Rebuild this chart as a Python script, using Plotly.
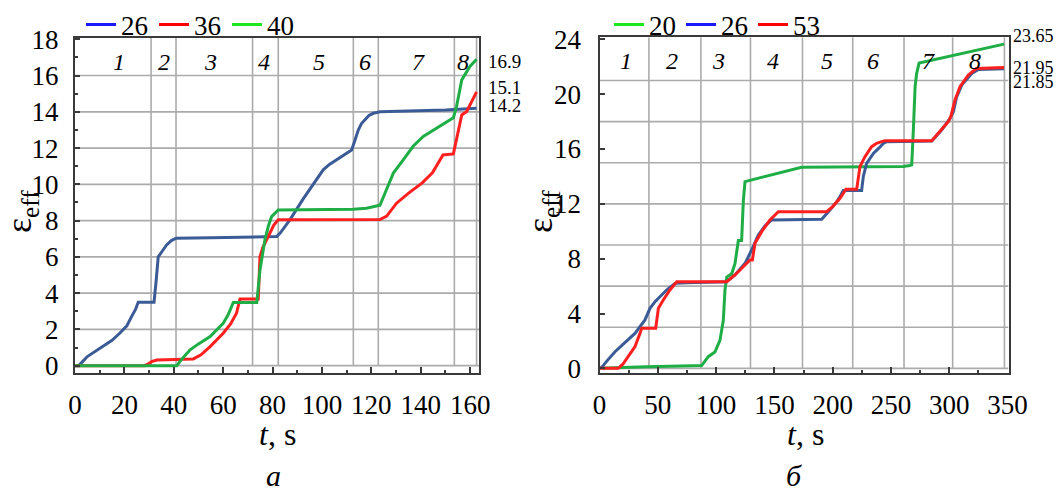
import plotly.graph_objects as go

W, H = 1062, 495
SERIF = "Liberation Serif"

# ---------------- panel a: strain vs time ----------------
A_T26 = [0, 1.5, 5, 10, 15, 18.2, 21, 22.9, 24.5, 25.6, 32, 32.8, 33.7, 35.5, 37.1, 39, 40.9,
         55, 70, 81.7, 83, 87, 92.4, 96, 100.5, 103, 105.9, 109, 112, 113.4, 114.7, 116,
         117.4, 119, 120.8, 123.5, 135, 150, 162.6]
A_V26 = [0, 0, 0.5, 0.95, 1.4, 1.8, 2.2, 2.7, 3.1, 3.5, 3.5, 4.6, 6.0, 6.35, 6.66, 6.9, 7.03,
         7.06, 7.08, 7.12, 7.3, 8.04, 9.2, 9.9, 10.8, 11.1, 11.35, 11.6, 11.9, 12.45, 13.0, 13.35,
         13.56, 13.8, 13.92, 14.0, 14.05, 14.1, 14.2]

A_T36 = [0, 28.3, 29.5, 31, 33.1, 40, 47.9, 51, 54.7, 60, 63, 65.4, 66.8, 74.2, 74.9, 76, 78.9,
         80.5, 82.3, 100, 123.5, 126.2, 130.2, 135.2, 140.6, 144.7, 147.6, 149, 153.2, 155.2,
         156.6, 158.6, 161.3, 162.6]
A_V36 = [0, 0, 0.08, 0.22, 0.31, 0.35, 0.37, 0.6, 1.05, 1.79, 2.3, 2.89, 3.68, 3.68, 6.01, 6.5,
         7.3, 7.75, 8.04, 8.06, 8.06, 8.25, 8.96, 9.53, 10.08, 10.64, 11.35, 11.62, 11.68, 13.0,
         13.83, 14.02, 14.75, 15.1]

A_T40 = [0, 41.2, 43.5, 46.6, 50, 54.7, 60, 62, 64.1, 73.6, 74.9, 76.9, 78.3, 79.6, 82.3, 100,
         112.7, 118, 122.1, 123.5, 125.5, 128.9, 132.9, 136.9, 141, 146.4, 153.2, 154.5, 156.6,
         159.9, 162.6]
A_V40 = [0, 0, 0.4, 0.87, 1.2, 1.6, 2.34, 2.8, 3.48, 3.48, 5.28, 6.94, 7.7, 8.22, 8.59, 8.61,
         8.62, 8.68, 8.78, 8.85, 9.51, 10.62, 11.35, 12.1, 12.64, 13.1, 13.67, 14.3, 15.76,
         16.5, 16.9]

A_BOUNDS = [30.8, 40.9, 71.9, 82.3, 112.7, 122.8, 153.6, 162.6]
A_PHASE_T = [17.8, 36.2, 54.7, 76.6, 98.8, 117.4, 139, 157.2]
A_PHASE_V = 16.77
A_HGRID = [0, 2, 4, 6, 8, 10, 12, 14, 16]
A_XTICKS = [0, 20, 40, 60, 80, 100, 120, 140, 160]
A_YTICKS = [0, 2, 4, 6, 8, 10, 12, 14, 16, 18]

# ---------------- panel б ----------------
B_T20 = [0, 15, 40, 70, 87.6, 93.3, 99, 103.3, 106.2, 107.6, 109.1, 113.4, 116.2, 119.1, 121.9,
         123.4, 124.8, 173.4, 200, 230, 260.6, 266, 267.8, 269.2, 270.7, 272, 274.1, 347]
B_V20 = [0, 0.05, 0.12, 0.17, 0.2, 0.85, 1.19, 2.04, 3.5, 5.69, 6.66, 6.9, 7.63, 9.33, 9.33,
         12.25, 13.62, 14.67, 14.69, 14.7, 14.72, 14.8, 14.84, 17.4, 20.56, 21.5, 22.27, 23.65]

B_T26 = [0, 1.9, 7, 13.3, 22, 30.4, 39, 43.3, 48, 53.3, 58, 64.7, 75, 109.1, 116.2, 124.8, 130.5,
         136.2, 142, 147.7, 170, 190.6, 197.7, 203, 206.3, 209.1, 224.8, 226.3, 229.1, 234.9,
         240, 243.4, 246.3, 285, 293.5, 300.7, 303.5, 306.4, 310.7, 315, 319.3, 325, 347]
B_V26 = [0, 0.07, 0.6, 1.21, 1.9, 2.55, 3.53, 4.38, 4.9, 5.35, 5.75, 6.2, 6.25, 6.32, 6.81, 7.66,
         8.63, 9.73, 10.4, 10.83, 10.86, 10.88, 11.55, 12.1, 12.53, 12.97, 12.97, 14.0, 14.95,
         15.68, 16.1, 16.41, 16.53, 16.59, 17.39, 18.24, 18.72, 19.81, 20.66, 21.1, 21.51, 21.8,
         21.85]

B_T53 = [0, 16.1, 20, 24.7, 30.4, 34.7, 36.2, 48.2, 50.5, 54.7, 60.4, 66.2, 80, 109.1, 116.2,
         124.8, 129.1, 131.1, 133.4, 139.1, 146, 153.4, 175, 194.8, 200, 206.3, 211.4, 220.6,
         223.4, 227.7, 233.4, 237.7, 242, 244.8, 285, 290.6, 299.2, 301.5, 304.9, 309.2, 316.3,
         323.4, 347]
B_V53 = [0, 0, 0.3, 0.85, 1.58, 2.55, 2.92, 2.92, 4.38, 4.99, 5.72, 6.32, 6.32, 6.32, 6.81, 7.54,
         7.9, 7.9, 9.12, 9.97, 10.8, 11.43, 11.43, 11.43, 11.8, 12.41, 13.07, 13.07, 14.72,
         15.44, 16.17, 16.42, 16.54, 16.61, 16.61, 17.15, 18.0, 18.41, 19.58, 20.55, 21.4,
         21.88, 21.95]

B_BOUNDS = [42.4, 87, 129.5, 174.1, 217.2, 261.2, 302.9, 347.3]
B_PHASE_T = [22.6, 62.4, 102.3, 149.1, 194.8, 234.8, 282, 322]
B_PHASE_V = 22.4
B_HGRID = [0, 3, 6, 9, 12, 15, 18, 21]
B_XTICKS = [0, 50, 100, 150, 200, 250, 300, 350]
B_YTICKS = [0, 4, 8, 12, 16, 20, 24]

PHASES = ["1", "2", "3", "4", "5", "6", "7", "8"]

# colours
C_BLUE, C_RED, C_GREEN = "#3b5b96", "#ff1f1f", "#1fae45"
L_BLUE, L_RED, L_GREEN = "#1a1aff", "#ff0000", "#1ee61e"
GRID = "#ababab"
FRAME = "#3a3a3a"


def px_x(p):
    return p / W


def px_y(p):
    return 1 - p / H


fig = go.Figure()

# curves of panel a
for t, v, c in [(A_T26, A_V26, C_BLUE), (A_T36, A_V36, C_RED), (A_T40, A_V40, C_GREEN)]:
    fig.add_trace(go.Scatter(x=t, y=v, mode="lines", line=dict(color=c, width=3),
                             showlegend=False, xaxis="x", yaxis="y", hoverinfo="skip"))
# curves of panel б
for t, v, c in [(B_T20, B_V20, C_GREEN), (B_T26, B_V26, C_BLUE), (B_T53, B_V53, C_RED)]:
    fig.add_trace(go.Scatter(x=t, y=v, mode="lines", line=dict(color=c, width=3),
                             showlegend=False, xaxis="x2", yaxis="y2", hoverinfo="skip"))

# legend entries
for name, c in [("26", L_BLUE), ("36", L_RED), ("40", L_GREEN)]:
    fig.add_trace(go.Scatter(x=[None], y=[None], mode="lines", name=name,
                             line=dict(color=c, width=3), legend="legend",
                             xaxis="x", yaxis="y"))
for name, c in [("20", L_GREEN), ("26", L_BLUE), ("53", L_RED)]:
    fig.add_trace(go.Scatter(x=[None], y=[None], mode="lines", name=name,
                             line=dict(color=c, width=3), legend="legend2",
                             xaxis="x2", yaxis="y2"))

A_XR = [0, 163.7]
A_YR = [-0.39, 18.1]
B_XR = [0, 350.8]
B_YR = [-0.34, 24.15]

shapes = []
for lv in A_HGRID:
    shapes.append(dict(type="line", xref="x", yref="y", x0=A_XR[0], x1=A_XR[1], y0=lv, y1=lv,
                       line=dict(color=GRID, width=1.6), layer="below"))
for b in A_BOUNDS:
    shapes.append(dict(type="line", xref="x", yref="y", x0=b, x1=b, y0=0, y1=A_YR[1],
                       line=dict(color=GRID, width=1.6), layer="below"))
for lv in B_HGRID:
    shapes.append(dict(type="line", xref="x2", yref="y2", x0=B_XR[0], x1=B_XR[1], y0=lv, y1=lv,
                       line=dict(color=GRID, width=1.6), layer="below"))
for b in B_BOUNDS:
    shapes.append(dict(type="line", xref="x2", yref="y2", x0=b, x1=b, y0=0, y1=B_YR[1],
                       line=dict(color=GRID, width=1.6), layer="below"))

ann = []
for t, s in zip(A_PHASE_T, PHASES):
    ann.append(dict(x=t, y=A_PHASE_V, xref="x", yref="y", text=f"<i>{s}</i>", showarrow=False,
                    xanchor="center", yanchor="middle",
                    font=dict(family=SERIF, size=24, color="black")))
for t, s in zip(B_PHASE_T, PHASES):
    ann.append(dict(x=t, y=B_PHASE_V, xref="x2", yref="y2", text=f"<i>{s}</i>", showarrow=False,
                    xanchor="center", yanchor="middle",
                    font=dict(family=SERIF, size=24, color="black")))

# end values
for t, v, dy in [(A_T40, A_V40, -2), (A_T36, A_V36, 4), (A_T26, A_V26, 3)]:
    ann.append(dict(x=t[-1], y=v[-1], xref="x", yref="y", text=f"{v[-1]:g}", showarrow=False,
                    xanchor="left", yanchor="middle", xshift=9, yshift=dy,
                    font=dict(family=SERIF, size=19, color="black")))
for t, v, dy in [(B_T20, B_V20, 8), (B_T53, B_V53, -1), (B_T26, B_V26, -13)]:
    ann.append(dict(x=t[-1], y=v[-1], xref="x2", yref="y2", text=f"{v[-1]:.2f}", showarrow=False,
                    xanchor="left", yanchor="middle", xshift=7, yshift=dy,
                    font=dict(family=SERIF, size=18, color="black")))

# axis titles and panel letters
for cx in (277, 805):
    ann.append(dict(x=px_x(cx), y=px_y(434), xref="paper", yref="paper",
                    text="<i>t</i>, s", showarrow=False, xanchor="center", yanchor="middle",
                    font=dict(family=SERIF, size=32, color="black")))
for cx in (21, 542):
    ann.append(dict(x=px_x(cx), y=px_y(212), xref="paper", yref="paper",
                    text="ε<sub>eff</sub>", textangle=-90, showarrow=False,
                    xanchor="center", yanchor="middle",
                    font=dict(family=SERIF, size=36, color="black")))
for cx, s in ((274, "а"), (794, "б")):
    ann.append(dict(x=px_x(cx), y=px_y(475), xref="paper", yref="paper",
                    text=f"<i>{s}</i>", showarrow=False, xanchor="center", yanchor="middle",
                    font=dict(family=SERIF, size=30, color="black")))

tickfont = dict(family=SERIF, size=27, color="black")
axis_common = dict(showgrid=False, zeroline=False, showline=True, mirror=True,
                   linecolor=FRAME, linewidth=2, ticks="inside", tickcolor=FRAME,
                   tickwidth=1.5, tickfont=tickfont)

legend_font = dict(family=SERIF, size=27, color="black")

fig.update_layout(
    width=W, height=H, autosize=False,
    margin=dict(l=0, r=0, t=0, b=0, autoexpand=False),
    paper_bgcolor="white", plot_bgcolor="white",
    xaxis=dict(domain=[px_x(75), px_x(479.3)], range=A_XR, anchor="y",
               tickvals=A_XTICKS, ticklen=6, ticklabelstandoff=7,
               minor=dict(dtick=10, ticks="inside", ticklen=3, tickcolor=FRAME), **axis_common),
    yaxis=dict(domain=[px_y(372.7), px_y(37.5)], range=A_YR, anchor="x",
               tickvals=A_YTICKS, ticklen=5, ticklabelstandoff=9,
               minor=dict(dtick=1, ticks="inside", ticklen=3, tickcolor=FRAME), **axis_common),
    xaxis2=dict(domain=[px_x(599.5), px_x(1008.5)], range=B_XR, anchor="y2",
                tickvals=B_XTICKS, ticklen=6, ticklabelstandoff=7,
                minor=dict(dtick=25, ticks="inside", ticklen=3, tickcolor=FRAME), **axis_common),
    yaxis2=dict(domain=[px_y(373), px_y(37.3)], range=B_YR, anchor="x2",
                tickvals=B_YTICKS, ticklen=5, ticklabelstandoff=11, **axis_common),
    legend=dict(orientation="h", x=px_x(81), y=px_y(25), xanchor="left", yanchor="middle",
                font=legend_font, bgcolor="rgba(0,0,0,0)",
                entrywidth=28, itemwidth=30, tracegroupgap=0),
    legend2=dict(orientation="h", x=px_x(609), y=px_y(25), xanchor="left", yanchor="middle",
                 font=legend_font, bgcolor="rgba(0,0,0,0)",
                 entrywidth=27, itemwidth=30, tracegroupgap=0),
    shapes=shapes,
    annotations=ann,
)

fig.write_html("out.html")
